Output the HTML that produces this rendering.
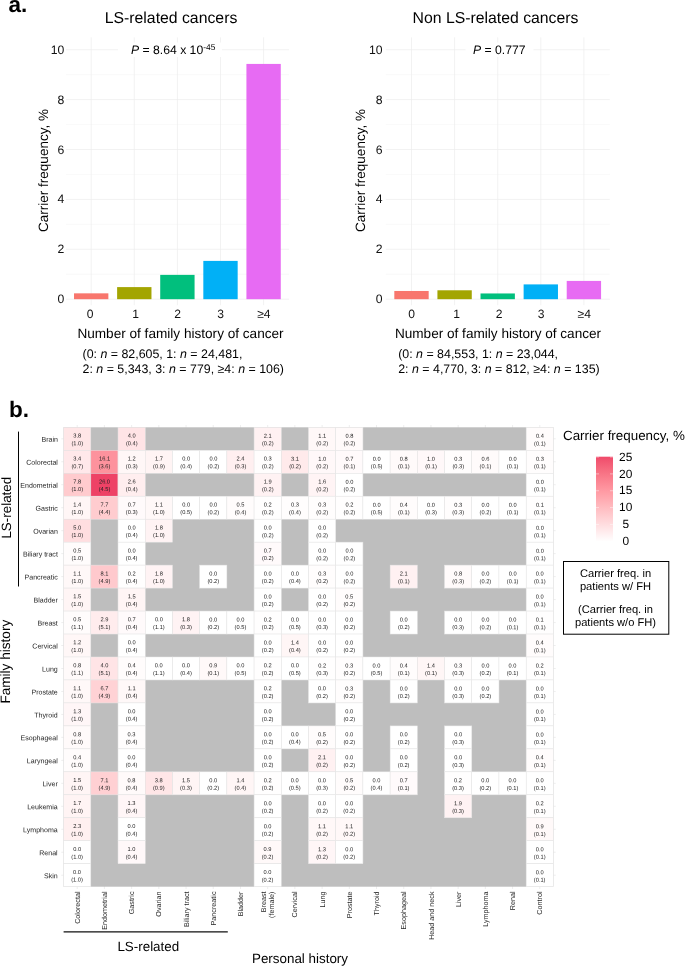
<!DOCTYPE html>
<html lang="en"><head><meta charset="utf-8"><title>Figure</title>
<style>html,body{margin:0;padding:0;background:#fff}svg{display:block;will-change:transform}text{font-family:'Liberation Sans', Arial, sans-serif;text-rendering:geometricPrecision}</style>
</head><body>
<svg width="685" height="966" viewBox="0 0 685 966">
<rect width="685" height="966" fill="#fff"/>
<g opacity="0.999">
<text x="8.40" y="11.60" font-size="22.5" font-weight="bold" fill="#000">a.</text>
<line x1="66.0" x2="289.0" y1="299.20" y2="299.20" stroke="#ededed" stroke-width="0.7"/>
<line x1="66.0" x2="289.0" y1="274.25" y2="274.25" stroke="#ededed" stroke-width="0.35"/>
<line x1="66.0" x2="289.0" y1="249.30" y2="249.30" stroke="#ededed" stroke-width="0.7"/>
<line x1="66.0" x2="289.0" y1="224.35" y2="224.35" stroke="#ededed" stroke-width="0.35"/>
<line x1="66.0" x2="289.0" y1="199.40" y2="199.40" stroke="#ededed" stroke-width="0.7"/>
<line x1="66.0" x2="289.0" y1="174.45" y2="174.45" stroke="#ededed" stroke-width="0.35"/>
<line x1="66.0" x2="289.0" y1="149.50" y2="149.50" stroke="#ededed" stroke-width="0.7"/>
<line x1="66.0" x2="289.0" y1="124.55" y2="124.55" stroke="#ededed" stroke-width="0.35"/>
<line x1="66.0" x2="289.0" y1="99.60" y2="99.60" stroke="#ededed" stroke-width="0.7"/>
<line x1="66.0" x2="289.0" y1="74.65" y2="74.65" stroke="#ededed" stroke-width="0.35"/>
<line x1="66.0" x2="289.0" y1="49.70" y2="49.70" stroke="#ededed" stroke-width="0.7"/>
<line x1="91.20" x2="91.20" y1="37.40" y2="305.20" stroke="#ededed" stroke-width="0.7"/>
<line x1="134.30" x2="134.30" y1="37.40" y2="305.20" stroke="#ededed" stroke-width="0.7"/>
<line x1="177.40" x2="177.40" y1="37.40" y2="305.20" stroke="#ededed" stroke-width="0.7"/>
<line x1="220.50" x2="220.50" y1="37.40" y2="305.20" stroke="#ededed" stroke-width="0.7"/>
<line x1="263.60" x2="263.60" y1="37.40" y2="305.20" stroke="#ededed" stroke-width="0.7"/>
<rect x="74.02" y="293.34" width="34.35" height="5.86" fill="#F8766D"/>
<rect x="117.12" y="287.10" width="34.35" height="12.10" fill="#A3A500"/>
<rect x="160.22" y="274.87" width="34.35" height="24.33" fill="#00BF7D"/>
<rect x="203.32" y="260.90" width="34.35" height="38.30" fill="#00B0F6"/>
<rect x="246.42" y="63.92" width="34.35" height="235.28" fill="#E76BF3"/>
<text x="64.20" y="303.20" font-size="12.2" text-anchor="end" fill="#111">0</text>
<text x="64.20" y="253.30" font-size="12.2" text-anchor="end" fill="#111">2</text>
<text x="64.20" y="203.40" font-size="12.2" text-anchor="end" fill="#111">4</text>
<text x="64.20" y="153.50" font-size="12.2" text-anchor="end" fill="#111">6</text>
<text x="64.20" y="103.60" font-size="12.2" text-anchor="end" fill="#111">8</text>
<text x="64.20" y="53.70" font-size="12.2" text-anchor="end" fill="#111">10</text>
<text x="90.10" y="317.80" font-size="12.1" text-anchor="middle" fill="#111">0</text>
<text x="135.50" y="317.80" font-size="12.1" text-anchor="middle" fill="#111">1</text>
<text x="177.60" y="317.80" font-size="12.1" text-anchor="middle" fill="#111">2</text>
<text x="220.50" y="317.80" font-size="12.1" text-anchor="middle" fill="#111">3</text>
<text x="263.90" y="317.80" font-size="12.1" text-anchor="middle" fill="#111">≥4</text>
<text x="171.00" y="23.40" font-size="15.8" text-anchor="middle" fill="#000">LS-related cancers</text>
<text x="47.60" y="170.50" font-size="13.5" text-anchor="middle" fill="#000" transform="rotate(-90 47.60 170.50)">Carrier frequency, %</text>
<text x="180.50" y="337.60" font-size="13.6" text-anchor="middle" fill="#000">Number of family history of cancer</text>
<rect x="118.0" y="42.5" width="104.0" height="14.5" fill="#fff"/>
<text x="131.00" y="53.60" font-size="12.2" fill="#000"><tspan font-style="italic">P</tspan> = 8.64 x 10<tspan font-size="8.4" dy="-3.4">-45</tspan></text>
<text x="82.50" y="357.90" font-size="12.4" fill="#000">(0: <tspan font-style="italic">n</tspan> = 82,605, 1: <tspan font-style="italic">n</tspan> = 24,481,</text>
<text x="82.50" y="373.40" font-size="12.4" fill="#000">2: <tspan font-style="italic">n</tspan> = 5,343, 3: <tspan font-style="italic">n</tspan> = 779, ≥4: <tspan font-style="italic">n</tspan> = 106)</text>
<line x1="385.8" x2="609.8" y1="299.20" y2="299.20" stroke="#ededed" stroke-width="0.7"/>
<line x1="385.8" x2="609.8" y1="274.25" y2="274.25" stroke="#ededed" stroke-width="0.35"/>
<line x1="385.8" x2="609.8" y1="249.30" y2="249.30" stroke="#ededed" stroke-width="0.7"/>
<line x1="385.8" x2="609.8" y1="224.35" y2="224.35" stroke="#ededed" stroke-width="0.35"/>
<line x1="385.8" x2="609.8" y1="199.40" y2="199.40" stroke="#ededed" stroke-width="0.7"/>
<line x1="385.8" x2="609.8" y1="174.45" y2="174.45" stroke="#ededed" stroke-width="0.35"/>
<line x1="385.8" x2="609.8" y1="149.50" y2="149.50" stroke="#ededed" stroke-width="0.7"/>
<line x1="385.8" x2="609.8" y1="124.55" y2="124.55" stroke="#ededed" stroke-width="0.35"/>
<line x1="385.8" x2="609.8" y1="99.60" y2="99.60" stroke="#ededed" stroke-width="0.7"/>
<line x1="385.8" x2="609.8" y1="74.65" y2="74.65" stroke="#ededed" stroke-width="0.35"/>
<line x1="385.8" x2="609.8" y1="49.70" y2="49.70" stroke="#ededed" stroke-width="0.7"/>
<line x1="411.50" x2="411.50" y1="37.40" y2="305.20" stroke="#ededed" stroke-width="0.7"/>
<line x1="454.60" x2="454.60" y1="37.40" y2="305.20" stroke="#ededed" stroke-width="0.7"/>
<line x1="497.70" x2="497.70" y1="37.40" y2="305.20" stroke="#ededed" stroke-width="0.7"/>
<line x1="540.80" x2="540.80" y1="37.40" y2="305.20" stroke="#ededed" stroke-width="0.7"/>
<line x1="583.90" x2="583.90" y1="37.40" y2="305.20" stroke="#ededed" stroke-width="0.7"/>
<rect x="394.32" y="290.97" width="34.35" height="8.23" fill="#F8766D"/>
<rect x="437.42" y="290.29" width="34.35" height="8.91" fill="#A3A500"/>
<rect x="480.52" y="293.46" width="34.35" height="5.74" fill="#00BF7D"/>
<rect x="523.62" y="284.40" width="34.35" height="14.80" fill="#00B0F6"/>
<rect x="566.72" y="280.91" width="34.35" height="18.29" fill="#E76BF3"/>
<text x="382.50" y="303.20" font-size="12.2" text-anchor="end" fill="#111">0</text>
<text x="382.50" y="253.30" font-size="12.2" text-anchor="end" fill="#111">2</text>
<text x="382.50" y="203.40" font-size="12.2" text-anchor="end" fill="#111">4</text>
<text x="382.50" y="153.50" font-size="12.2" text-anchor="end" fill="#111">6</text>
<text x="382.50" y="103.60" font-size="12.2" text-anchor="end" fill="#111">8</text>
<text x="382.50" y="53.70" font-size="12.2" text-anchor="end" fill="#111">10</text>
<text x="411.50" y="317.80" font-size="12.1" text-anchor="middle" fill="#111">0</text>
<text x="456.60" y="317.80" font-size="12.1" text-anchor="middle" fill="#111">1</text>
<text x="499.00" y="317.80" font-size="12.1" text-anchor="middle" fill="#111">2</text>
<text x="541.10" y="317.80" font-size="12.1" text-anchor="middle" fill="#111">3</text>
<text x="584.20" y="317.80" font-size="12.1" text-anchor="middle" fill="#111">≥4</text>
<text x="495.50" y="23.40" font-size="15.8" text-anchor="middle" fill="#000">Non LS-related cancers</text>
<text x="365.40" y="170.50" font-size="13.5" text-anchor="middle" fill="#000" transform="rotate(-90 365.40 170.50)">Carrier frequency, %</text>
<text x="498.00" y="337.60" font-size="13.6" text-anchor="middle" fill="#000">Number of family history of cancer</text>
<rect x="465.5" y="42.5" width="68.0" height="14.5" fill="#fff"/>
<text x="473.00" y="53.60" font-size="12.2" fill="#000"><tspan font-style="italic">P</tspan> = 0.777</text>
<text x="398.20" y="357.90" font-size="12.4" fill="#000">(0: <tspan font-style="italic">n</tspan> = 84,553, 1: <tspan font-style="italic">n</tspan> = 23,044,</text>
<text x="398.20" y="373.40" font-size="12.4" fill="#000">2: <tspan font-style="italic">n</tspan> = 4,770, 3: <tspan font-style="italic">n</tspan> = 812, ≥4: <tspan font-style="italic">n</tspan> = 135)</text>
<text x="9.00" y="417.30" font-size="22.5" font-weight="bold" fill="#000">b.</text>
<line x1="61.30" x2="555.70" y1="438.79" y2="438.79" stroke="#e2e2e2" stroke-width="0.6"/>
<line x1="61.30" x2="555.70" y1="461.75" y2="461.75" stroke="#e2e2e2" stroke-width="0.6"/>
<line x1="61.30" x2="555.70" y1="484.73" y2="484.73" stroke="#e2e2e2" stroke-width="0.6"/>
<line x1="61.30" x2="555.70" y1="507.70" y2="507.70" stroke="#e2e2e2" stroke-width="0.6"/>
<line x1="61.30" x2="555.70" y1="530.66" y2="530.66" stroke="#e2e2e2" stroke-width="0.6"/>
<line x1="61.30" x2="555.70" y1="553.63" y2="553.63" stroke="#e2e2e2" stroke-width="0.6"/>
<line x1="61.30" x2="555.70" y1="576.61" y2="576.61" stroke="#e2e2e2" stroke-width="0.6"/>
<line x1="61.30" x2="555.70" y1="599.58" y2="599.58" stroke="#e2e2e2" stroke-width="0.6"/>
<line x1="61.30" x2="555.70" y1="622.55" y2="622.55" stroke="#e2e2e2" stroke-width="0.6"/>
<line x1="61.30" x2="555.70" y1="645.52" y2="645.52" stroke="#e2e2e2" stroke-width="0.6"/>
<line x1="61.30" x2="555.70" y1="668.49" y2="668.49" stroke="#e2e2e2" stroke-width="0.6"/>
<line x1="61.30" x2="555.70" y1="691.46" y2="691.46" stroke="#e2e2e2" stroke-width="0.6"/>
<line x1="61.30" x2="555.70" y1="714.43" y2="714.43" stroke="#e2e2e2" stroke-width="0.6"/>
<line x1="61.30" x2="555.70" y1="737.39" y2="737.39" stroke="#e2e2e2" stroke-width="0.6"/>
<line x1="61.30" x2="555.70" y1="760.37" y2="760.37" stroke="#e2e2e2" stroke-width="0.6"/>
<line x1="61.30" x2="555.70" y1="783.34" y2="783.34" stroke="#e2e2e2" stroke-width="0.6"/>
<line x1="61.30" x2="555.70" y1="806.31" y2="806.31" stroke="#e2e2e2" stroke-width="0.6"/>
<line x1="61.30" x2="555.70" y1="829.28" y2="829.28" stroke="#e2e2e2" stroke-width="0.6"/>
<line x1="61.30" x2="555.70" y1="852.25" y2="852.25" stroke="#e2e2e2" stroke-width="0.6"/>
<line x1="61.30" x2="555.70" y1="875.22" y2="875.22" stroke="#e2e2e2" stroke-width="0.6"/>
<line x1="77.21" x2="77.21" y1="425.00" y2="889.00" stroke="#e2e2e2" stroke-width="0.6"/>
<line x1="104.42" x2="104.42" y1="425.00" y2="889.00" stroke="#e2e2e2" stroke-width="0.6"/>
<line x1="131.63" x2="131.63" y1="425.00" y2="889.00" stroke="#e2e2e2" stroke-width="0.6"/>
<line x1="158.84" x2="158.84" y1="425.00" y2="889.00" stroke="#e2e2e2" stroke-width="0.6"/>
<line x1="186.05" x2="186.05" y1="425.00" y2="889.00" stroke="#e2e2e2" stroke-width="0.6"/>
<line x1="213.26" x2="213.26" y1="425.00" y2="889.00" stroke="#e2e2e2" stroke-width="0.6"/>
<line x1="240.47" x2="240.47" y1="425.00" y2="889.00" stroke="#e2e2e2" stroke-width="0.6"/>
<line x1="267.68" x2="267.68" y1="425.00" y2="889.00" stroke="#e2e2e2" stroke-width="0.6"/>
<line x1="294.89" x2="294.89" y1="425.00" y2="889.00" stroke="#e2e2e2" stroke-width="0.6"/>
<line x1="322.11" x2="322.11" y1="425.00" y2="889.00" stroke="#e2e2e2" stroke-width="0.6"/>
<line x1="349.32" x2="349.32" y1="425.00" y2="889.00" stroke="#e2e2e2" stroke-width="0.6"/>
<line x1="376.53" x2="376.53" y1="425.00" y2="889.00" stroke="#e2e2e2" stroke-width="0.6"/>
<line x1="403.74" x2="403.74" y1="425.00" y2="889.00" stroke="#e2e2e2" stroke-width="0.6"/>
<line x1="430.95" x2="430.95" y1="425.00" y2="889.00" stroke="#e2e2e2" stroke-width="0.6"/>
<line x1="458.16" x2="458.16" y1="425.00" y2="889.00" stroke="#e2e2e2" stroke-width="0.6"/>
<line x1="485.37" x2="485.37" y1="425.00" y2="889.00" stroke="#e2e2e2" stroke-width="0.6"/>
<line x1="512.58" x2="512.58" y1="425.00" y2="889.00" stroke="#e2e2e2" stroke-width="0.6"/>
<line x1="539.79" x2="539.79" y1="425.00" y2="889.00" stroke="#e2e2e2" stroke-width="0.6"/>
<rect x="63.6" y="427.3" width="489.80" height="459.40" fill="#bebebe"/>
<rect x="63.60" y="427.30" width="27.21" height="22.97" fill="#ffe6e7" stroke="#e6e6e6" stroke-width="0.5"/>
<rect x="118.02" y="427.30" width="27.21" height="22.97" fill="#ffe4e6" stroke="#e6e6e6" stroke-width="0.5"/>
<rect x="254.08" y="427.30" width="27.21" height="22.97" fill="#fff1f2" stroke="#e6e6e6" stroke-width="0.5"/>
<rect x="308.50" y="427.30" width="27.21" height="22.97" fill="#fff8f8" stroke="#e6e6e6" stroke-width="0.5"/>
<rect x="335.71" y="427.30" width="27.21" height="22.97" fill="#fffafa" stroke="#e6e6e6" stroke-width="0.5"/>
<rect x="526.19" y="427.30" width="27.21" height="22.97" fill="#fffcfc" stroke="#e6e6e6" stroke-width="0.5"/>
<rect x="63.60" y="450.27" width="27.21" height="22.97" fill="#ffe8ea" stroke="#e6e6e6" stroke-width="0.5"/>
<rect x="90.81" y="450.27" width="27.21" height="22.97" fill="#fd929d" stroke="#e6e6e6" stroke-width="0.5"/>
<rect x="118.02" y="450.27" width="27.21" height="22.97" fill="#fff7f7" stroke="#e6e6e6" stroke-width="0.5"/>
<rect x="145.23" y="450.27" width="27.21" height="22.97" fill="#fff4f4" stroke="#e6e6e6" stroke-width="0.5"/>
<rect x="172.44" y="450.27" width="27.21" height="22.97" fill="#ffffff" stroke="#e6e6e6" stroke-width="0.5"/>
<rect x="199.66" y="450.27" width="27.21" height="22.97" fill="#ffffff" stroke="#e6e6e6" stroke-width="0.5"/>
<rect x="226.87" y="450.27" width="27.21" height="22.97" fill="#ffeff0" stroke="#e6e6e6" stroke-width="0.5"/>
<rect x="254.08" y="450.27" width="27.21" height="22.97" fill="#fffdfd" stroke="#e6e6e6" stroke-width="0.5"/>
<rect x="281.29" y="450.27" width="27.21" height="22.97" fill="#ffeaeb" stroke="#e6e6e6" stroke-width="0.5"/>
<rect x="308.50" y="450.27" width="27.21" height="22.97" fill="#fff8f9" stroke="#e6e6e6" stroke-width="0.5"/>
<rect x="335.71" y="450.27" width="27.21" height="22.97" fill="#fffafb" stroke="#e6e6e6" stroke-width="0.5"/>
<rect x="362.92" y="450.27" width="27.21" height="22.97" fill="#ffffff" stroke="#e6e6e6" stroke-width="0.5"/>
<rect x="390.13" y="450.27" width="27.21" height="22.97" fill="#fffafa" stroke="#e6e6e6" stroke-width="0.5"/>
<rect x="417.34" y="450.27" width="27.21" height="22.97" fill="#fff8f9" stroke="#e6e6e6" stroke-width="0.5"/>
<rect x="444.56" y="450.27" width="27.21" height="22.97" fill="#fffdfd" stroke="#e6e6e6" stroke-width="0.5"/>
<rect x="471.77" y="450.27" width="27.21" height="22.97" fill="#fffbfb" stroke="#e6e6e6" stroke-width="0.5"/>
<rect x="498.98" y="450.27" width="27.21" height="22.97" fill="#ffffff" stroke="#e6e6e6" stroke-width="0.5"/>
<rect x="526.19" y="450.27" width="27.21" height="22.97" fill="#fffdfd" stroke="#e6e6e6" stroke-width="0.5"/>
<rect x="63.60" y="473.24" width="27.21" height="22.97" fill="#ffcbce" stroke="#e6e6e6" stroke-width="0.5"/>
<rect x="90.81" y="473.24" width="27.21" height="22.97" fill="#ee4266" stroke="#e6e6e6" stroke-width="0.5"/>
<rect x="118.02" y="473.24" width="27.21" height="22.97" fill="#ffeeef" stroke="#e6e6e6" stroke-width="0.5"/>
<rect x="254.08" y="473.24" width="27.21" height="22.97" fill="#fff2f3" stroke="#e6e6e6" stroke-width="0.5"/>
<rect x="308.50" y="473.24" width="27.21" height="22.97" fill="#fff4f5" stroke="#e6e6e6" stroke-width="0.5"/>
<rect x="335.71" y="473.24" width="27.21" height="22.97" fill="#ffffff" stroke="#e6e6e6" stroke-width="0.5"/>
<rect x="526.19" y="473.24" width="27.21" height="22.97" fill="#ffffff" stroke="#e6e6e6" stroke-width="0.5"/>
<rect x="63.60" y="496.21" width="27.21" height="22.97" fill="#fff6f6" stroke="#e6e6e6" stroke-width="0.5"/>
<rect x="90.81" y="496.21" width="27.21" height="22.97" fill="#ffcccf" stroke="#e6e6e6" stroke-width="0.5"/>
<rect x="118.02" y="496.21" width="27.21" height="22.97" fill="#fffafb" stroke="#e6e6e6" stroke-width="0.5"/>
<rect x="145.23" y="496.21" width="27.21" height="22.97" fill="#fff8f8" stroke="#e6e6e6" stroke-width="0.5"/>
<rect x="172.44" y="496.21" width="27.21" height="22.97" fill="#ffffff" stroke="#e6e6e6" stroke-width="0.5"/>
<rect x="199.66" y="496.21" width="27.21" height="22.97" fill="#ffffff" stroke="#e6e6e6" stroke-width="0.5"/>
<rect x="226.87" y="496.21" width="27.21" height="22.97" fill="#fffcfc" stroke="#e6e6e6" stroke-width="0.5"/>
<rect x="254.08" y="496.21" width="27.21" height="22.97" fill="#fffefe" stroke="#e6e6e6" stroke-width="0.5"/>
<rect x="281.29" y="496.21" width="27.21" height="22.97" fill="#fffdfd" stroke="#e6e6e6" stroke-width="0.5"/>
<rect x="308.50" y="496.21" width="27.21" height="22.97" fill="#fffdfd" stroke="#e6e6e6" stroke-width="0.5"/>
<rect x="335.71" y="496.21" width="27.21" height="22.97" fill="#fffefe" stroke="#e6e6e6" stroke-width="0.5"/>
<rect x="362.92" y="496.21" width="27.21" height="22.97" fill="#ffffff" stroke="#e6e6e6" stroke-width="0.5"/>
<rect x="390.13" y="496.21" width="27.21" height="22.97" fill="#fffcfc" stroke="#e6e6e6" stroke-width="0.5"/>
<rect x="417.34" y="496.21" width="27.21" height="22.97" fill="#ffffff" stroke="#e6e6e6" stroke-width="0.5"/>
<rect x="444.56" y="496.21" width="27.21" height="22.97" fill="#fffdfd" stroke="#e6e6e6" stroke-width="0.5"/>
<rect x="471.77" y="496.21" width="27.21" height="22.97" fill="#ffffff" stroke="#e6e6e6" stroke-width="0.5"/>
<rect x="498.98" y="496.21" width="27.21" height="22.97" fill="#ffffff" stroke="#e6e6e6" stroke-width="0.5"/>
<rect x="526.19" y="496.21" width="27.21" height="22.97" fill="#fffefe" stroke="#e6e6e6" stroke-width="0.5"/>
<rect x="63.60" y="519.18" width="27.21" height="22.97" fill="#ffdee0" stroke="#e6e6e6" stroke-width="0.5"/>
<rect x="118.02" y="519.18" width="27.21" height="22.97" fill="#ffffff" stroke="#e6e6e6" stroke-width="0.5"/>
<rect x="145.23" y="519.18" width="27.21" height="22.97" fill="#fff3f4" stroke="#e6e6e6" stroke-width="0.5"/>
<rect x="254.08" y="519.18" width="27.21" height="22.97" fill="#ffffff" stroke="#e6e6e6" stroke-width="0.5"/>
<rect x="308.50" y="519.18" width="27.21" height="22.97" fill="#ffffff" stroke="#e6e6e6" stroke-width="0.5"/>
<rect x="526.19" y="519.18" width="27.21" height="22.97" fill="#ffffff" stroke="#e6e6e6" stroke-width="0.5"/>
<rect x="63.60" y="542.15" width="27.21" height="22.97" fill="#fffcfc" stroke="#e6e6e6" stroke-width="0.5"/>
<rect x="118.02" y="542.15" width="27.21" height="22.97" fill="#ffffff" stroke="#e6e6e6" stroke-width="0.5"/>
<rect x="254.08" y="542.15" width="27.21" height="22.97" fill="#fffafb" stroke="#e6e6e6" stroke-width="0.5"/>
<rect x="308.50" y="542.15" width="27.21" height="22.97" fill="#ffffff" stroke="#e6e6e6" stroke-width="0.5"/>
<rect x="335.71" y="542.15" width="27.21" height="22.97" fill="#ffffff" stroke="#e6e6e6" stroke-width="0.5"/>
<rect x="526.19" y="542.15" width="27.21" height="22.97" fill="#ffffff" stroke="#e6e6e6" stroke-width="0.5"/>
<rect x="63.60" y="565.12" width="27.21" height="22.97" fill="#fff8f8" stroke="#e6e6e6" stroke-width="0.5"/>
<rect x="90.81" y="565.12" width="27.21" height="22.97" fill="#ffc9cd" stroke="#e6e6e6" stroke-width="0.5"/>
<rect x="118.02" y="565.12" width="27.21" height="22.97" fill="#fffefe" stroke="#e6e6e6" stroke-width="0.5"/>
<rect x="145.23" y="565.12" width="27.21" height="22.97" fill="#fff3f4" stroke="#e6e6e6" stroke-width="0.5"/>
<rect x="199.66" y="565.12" width="27.21" height="22.97" fill="#ffffff" stroke="#e6e6e6" stroke-width="0.5"/>
<rect x="254.08" y="565.12" width="27.21" height="22.97" fill="#ffffff" stroke="#e6e6e6" stroke-width="0.5"/>
<rect x="281.29" y="565.12" width="27.21" height="22.97" fill="#ffffff" stroke="#e6e6e6" stroke-width="0.5"/>
<rect x="308.50" y="565.12" width="27.21" height="22.97" fill="#fffdfd" stroke="#e6e6e6" stroke-width="0.5"/>
<rect x="335.71" y="565.12" width="27.21" height="22.97" fill="#ffffff" stroke="#e6e6e6" stroke-width="0.5"/>
<rect x="390.13" y="565.12" width="27.21" height="22.97" fill="#fff1f2" stroke="#e6e6e6" stroke-width="0.5"/>
<rect x="444.56" y="565.12" width="27.21" height="22.97" fill="#fffafa" stroke="#e6e6e6" stroke-width="0.5"/>
<rect x="471.77" y="565.12" width="27.21" height="22.97" fill="#ffffff" stroke="#e6e6e6" stroke-width="0.5"/>
<rect x="498.98" y="565.12" width="27.21" height="22.97" fill="#ffffff" stroke="#e6e6e6" stroke-width="0.5"/>
<rect x="526.19" y="565.12" width="27.21" height="22.97" fill="#ffffff" stroke="#e6e6e6" stroke-width="0.5"/>
<rect x="63.60" y="588.09" width="27.21" height="22.97" fill="#fff5f5" stroke="#e6e6e6" stroke-width="0.5"/>
<rect x="118.02" y="588.09" width="27.21" height="22.97" fill="#fff5f5" stroke="#e6e6e6" stroke-width="0.5"/>
<rect x="254.08" y="588.09" width="27.21" height="22.97" fill="#ffffff" stroke="#e6e6e6" stroke-width="0.5"/>
<rect x="308.50" y="588.09" width="27.21" height="22.97" fill="#ffffff" stroke="#e6e6e6" stroke-width="0.5"/>
<rect x="335.71" y="588.09" width="27.21" height="22.97" fill="#fffcfc" stroke="#e6e6e6" stroke-width="0.5"/>
<rect x="526.19" y="588.09" width="27.21" height="22.97" fill="#ffffff" stroke="#e6e6e6" stroke-width="0.5"/>
<rect x="63.60" y="611.06" width="27.21" height="22.97" fill="#fffcfc" stroke="#e6e6e6" stroke-width="0.5"/>
<rect x="90.81" y="611.06" width="27.21" height="22.97" fill="#ffeced" stroke="#e6e6e6" stroke-width="0.5"/>
<rect x="118.02" y="611.06" width="27.21" height="22.97" fill="#fffafb" stroke="#e6e6e6" stroke-width="0.5"/>
<rect x="145.23" y="611.06" width="27.21" height="22.97" fill="#ffffff" stroke="#e6e6e6" stroke-width="0.5"/>
<rect x="172.44" y="611.06" width="27.21" height="22.97" fill="#fff3f4" stroke="#e6e6e6" stroke-width="0.5"/>
<rect x="199.66" y="611.06" width="27.21" height="22.97" fill="#ffffff" stroke="#e6e6e6" stroke-width="0.5"/>
<rect x="226.87" y="611.06" width="27.21" height="22.97" fill="#ffffff" stroke="#e6e6e6" stroke-width="0.5"/>
<rect x="254.08" y="611.06" width="27.21" height="22.97" fill="#fffefe" stroke="#e6e6e6" stroke-width="0.5"/>
<rect x="281.29" y="611.06" width="27.21" height="22.97" fill="#ffffff" stroke="#e6e6e6" stroke-width="0.5"/>
<rect x="308.50" y="611.06" width="27.21" height="22.97" fill="#ffffff" stroke="#e6e6e6" stroke-width="0.5"/>
<rect x="335.71" y="611.06" width="27.21" height="22.97" fill="#ffffff" stroke="#e6e6e6" stroke-width="0.5"/>
<rect x="390.13" y="611.06" width="27.21" height="22.97" fill="#ffffff" stroke="#e6e6e6" stroke-width="0.5"/>
<rect x="444.56" y="611.06" width="27.21" height="22.97" fill="#ffffff" stroke="#e6e6e6" stroke-width="0.5"/>
<rect x="471.77" y="611.06" width="27.21" height="22.97" fill="#ffffff" stroke="#e6e6e6" stroke-width="0.5"/>
<rect x="498.98" y="611.06" width="27.21" height="22.97" fill="#ffffff" stroke="#e6e6e6" stroke-width="0.5"/>
<rect x="526.19" y="611.06" width="27.21" height="22.97" fill="#fffefe" stroke="#e6e6e6" stroke-width="0.5"/>
<rect x="63.60" y="634.03" width="27.21" height="22.97" fill="#fff7f7" stroke="#e6e6e6" stroke-width="0.5"/>
<rect x="118.02" y="634.03" width="27.21" height="22.97" fill="#ffffff" stroke="#e6e6e6" stroke-width="0.5"/>
<rect x="254.08" y="634.03" width="27.21" height="22.97" fill="#ffffff" stroke="#e6e6e6" stroke-width="0.5"/>
<rect x="281.29" y="634.03" width="27.21" height="22.97" fill="#fff6f6" stroke="#e6e6e6" stroke-width="0.5"/>
<rect x="308.50" y="634.03" width="27.21" height="22.97" fill="#ffffff" stroke="#e6e6e6" stroke-width="0.5"/>
<rect x="335.71" y="634.03" width="27.21" height="22.97" fill="#ffffff" stroke="#e6e6e6" stroke-width="0.5"/>
<rect x="526.19" y="634.03" width="27.21" height="22.97" fill="#fffcfc" stroke="#e6e6e6" stroke-width="0.5"/>
<rect x="63.60" y="657.00" width="27.21" height="22.97" fill="#fffafa" stroke="#e6e6e6" stroke-width="0.5"/>
<rect x="90.81" y="657.00" width="27.21" height="22.97" fill="#ffe4e6" stroke="#e6e6e6" stroke-width="0.5"/>
<rect x="118.02" y="657.00" width="27.21" height="22.97" fill="#fffcfc" stroke="#e6e6e6" stroke-width="0.5"/>
<rect x="145.23" y="657.00" width="27.21" height="22.97" fill="#ffffff" stroke="#e6e6e6" stroke-width="0.5"/>
<rect x="172.44" y="657.00" width="27.21" height="22.97" fill="#ffffff" stroke="#e6e6e6" stroke-width="0.5"/>
<rect x="199.66" y="657.00" width="27.21" height="22.97" fill="#fff9f9" stroke="#e6e6e6" stroke-width="0.5"/>
<rect x="226.87" y="657.00" width="27.21" height="22.97" fill="#ffffff" stroke="#e6e6e6" stroke-width="0.5"/>
<rect x="254.08" y="657.00" width="27.21" height="22.97" fill="#fffefe" stroke="#e6e6e6" stroke-width="0.5"/>
<rect x="281.29" y="657.00" width="27.21" height="22.97" fill="#ffffff" stroke="#e6e6e6" stroke-width="0.5"/>
<rect x="308.50" y="657.00" width="27.21" height="22.97" fill="#fffefe" stroke="#e6e6e6" stroke-width="0.5"/>
<rect x="335.71" y="657.00" width="27.21" height="22.97" fill="#fffdfd" stroke="#e6e6e6" stroke-width="0.5"/>
<rect x="362.92" y="657.00" width="27.21" height="22.97" fill="#ffffff" stroke="#e6e6e6" stroke-width="0.5"/>
<rect x="390.13" y="657.00" width="27.21" height="22.97" fill="#fffcfc" stroke="#e6e6e6" stroke-width="0.5"/>
<rect x="417.34" y="657.00" width="27.21" height="22.97" fill="#fff6f6" stroke="#e6e6e6" stroke-width="0.5"/>
<rect x="444.56" y="657.00" width="27.21" height="22.97" fill="#fffdfd" stroke="#e6e6e6" stroke-width="0.5"/>
<rect x="471.77" y="657.00" width="27.21" height="22.97" fill="#ffffff" stroke="#e6e6e6" stroke-width="0.5"/>
<rect x="498.98" y="657.00" width="27.21" height="22.97" fill="#ffffff" stroke="#e6e6e6" stroke-width="0.5"/>
<rect x="526.19" y="657.00" width="27.21" height="22.97" fill="#fffefe" stroke="#e6e6e6" stroke-width="0.5"/>
<rect x="63.60" y="679.97" width="27.21" height="22.97" fill="#fff8f8" stroke="#e6e6e6" stroke-width="0.5"/>
<rect x="90.81" y="679.97" width="27.21" height="22.97" fill="#ffd2d5" stroke="#e6e6e6" stroke-width="0.5"/>
<rect x="118.02" y="679.97" width="27.21" height="22.97" fill="#fff8f8" stroke="#e6e6e6" stroke-width="0.5"/>
<rect x="254.08" y="679.97" width="27.21" height="22.97" fill="#fffefe" stroke="#e6e6e6" stroke-width="0.5"/>
<rect x="308.50" y="679.97" width="27.21" height="22.97" fill="#ffffff" stroke="#e6e6e6" stroke-width="0.5"/>
<rect x="335.71" y="679.97" width="27.21" height="22.97" fill="#fffdfd" stroke="#e6e6e6" stroke-width="0.5"/>
<rect x="390.13" y="679.97" width="27.21" height="22.97" fill="#ffffff" stroke="#e6e6e6" stroke-width="0.5"/>
<rect x="444.56" y="679.97" width="27.21" height="22.97" fill="#ffffff" stroke="#e6e6e6" stroke-width="0.5"/>
<rect x="471.77" y="679.97" width="27.21" height="22.97" fill="#ffffff" stroke="#e6e6e6" stroke-width="0.5"/>
<rect x="526.19" y="679.97" width="27.21" height="22.97" fill="#ffffff" stroke="#e6e6e6" stroke-width="0.5"/>
<rect x="63.60" y="702.94" width="27.21" height="22.97" fill="#fff6f7" stroke="#e6e6e6" stroke-width="0.5"/>
<rect x="118.02" y="702.94" width="27.21" height="22.97" fill="#ffffff" stroke="#e6e6e6" stroke-width="0.5"/>
<rect x="254.08" y="702.94" width="27.21" height="22.97" fill="#ffffff" stroke="#e6e6e6" stroke-width="0.5"/>
<rect x="335.71" y="702.94" width="27.21" height="22.97" fill="#ffffff" stroke="#e6e6e6" stroke-width="0.5"/>
<rect x="526.19" y="702.94" width="27.21" height="22.97" fill="#ffffff" stroke="#e6e6e6" stroke-width="0.5"/>
<rect x="63.60" y="725.91" width="27.21" height="22.97" fill="#fffafa" stroke="#e6e6e6" stroke-width="0.5"/>
<rect x="118.02" y="725.91" width="27.21" height="22.97" fill="#fffdfd" stroke="#e6e6e6" stroke-width="0.5"/>
<rect x="254.08" y="725.91" width="27.21" height="22.97" fill="#ffffff" stroke="#e6e6e6" stroke-width="0.5"/>
<rect x="281.29" y="725.91" width="27.21" height="22.97" fill="#ffffff" stroke="#e6e6e6" stroke-width="0.5"/>
<rect x="308.50" y="725.91" width="27.21" height="22.97" fill="#fffcfc" stroke="#e6e6e6" stroke-width="0.5"/>
<rect x="335.71" y="725.91" width="27.21" height="22.97" fill="#ffffff" stroke="#e6e6e6" stroke-width="0.5"/>
<rect x="390.13" y="725.91" width="27.21" height="22.97" fill="#ffffff" stroke="#e6e6e6" stroke-width="0.5"/>
<rect x="444.56" y="725.91" width="27.21" height="22.97" fill="#ffffff" stroke="#e6e6e6" stroke-width="0.5"/>
<rect x="526.19" y="725.91" width="27.21" height="22.97" fill="#ffffff" stroke="#e6e6e6" stroke-width="0.5"/>
<rect x="63.60" y="748.88" width="27.21" height="22.97" fill="#fffcfc" stroke="#e6e6e6" stroke-width="0.5"/>
<rect x="118.02" y="748.88" width="27.21" height="22.97" fill="#ffffff" stroke="#e6e6e6" stroke-width="0.5"/>
<rect x="254.08" y="748.88" width="27.21" height="22.97" fill="#ffffff" stroke="#e6e6e6" stroke-width="0.5"/>
<rect x="308.50" y="748.88" width="27.21" height="22.97" fill="#fff1f2" stroke="#e6e6e6" stroke-width="0.5"/>
<rect x="335.71" y="748.88" width="27.21" height="22.97" fill="#ffffff" stroke="#e6e6e6" stroke-width="0.5"/>
<rect x="390.13" y="748.88" width="27.21" height="22.97" fill="#ffffff" stroke="#e6e6e6" stroke-width="0.5"/>
<rect x="444.56" y="748.88" width="27.21" height="22.97" fill="#ffffff" stroke="#e6e6e6" stroke-width="0.5"/>
<rect x="526.19" y="748.88" width="27.21" height="22.97" fill="#fffcfc" stroke="#e6e6e6" stroke-width="0.5"/>
<rect x="63.60" y="771.85" width="27.21" height="22.97" fill="#fff5f5" stroke="#e6e6e6" stroke-width="0.5"/>
<rect x="90.81" y="771.85" width="27.21" height="22.97" fill="#ffd0d3" stroke="#e6e6e6" stroke-width="0.5"/>
<rect x="118.02" y="771.85" width="27.21" height="22.97" fill="#fffafa" stroke="#e6e6e6" stroke-width="0.5"/>
<rect x="145.23" y="771.85" width="27.21" height="22.97" fill="#ffe6e7" stroke="#e6e6e6" stroke-width="0.5"/>
<rect x="172.44" y="771.85" width="27.21" height="22.97" fill="#fff5f5" stroke="#e6e6e6" stroke-width="0.5"/>
<rect x="199.66" y="771.85" width="27.21" height="22.97" fill="#ffffff" stroke="#e6e6e6" stroke-width="0.5"/>
<rect x="226.87" y="771.85" width="27.21" height="22.97" fill="#fff6f6" stroke="#e6e6e6" stroke-width="0.5"/>
<rect x="254.08" y="771.85" width="27.21" height="22.97" fill="#fffefe" stroke="#e6e6e6" stroke-width="0.5"/>
<rect x="281.29" y="771.85" width="27.21" height="22.97" fill="#ffffff" stroke="#e6e6e6" stroke-width="0.5"/>
<rect x="308.50" y="771.85" width="27.21" height="22.97" fill="#ffffff" stroke="#e6e6e6" stroke-width="0.5"/>
<rect x="335.71" y="771.85" width="27.21" height="22.97" fill="#fffcfc" stroke="#e6e6e6" stroke-width="0.5"/>
<rect x="362.92" y="771.85" width="27.21" height="22.97" fill="#ffffff" stroke="#e6e6e6" stroke-width="0.5"/>
<rect x="390.13" y="771.85" width="27.21" height="22.97" fill="#fffafb" stroke="#e6e6e6" stroke-width="0.5"/>
<rect x="444.56" y="771.85" width="27.21" height="22.97" fill="#fffefe" stroke="#e6e6e6" stroke-width="0.5"/>
<rect x="471.77" y="771.85" width="27.21" height="22.97" fill="#ffffff" stroke="#e6e6e6" stroke-width="0.5"/>
<rect x="498.98" y="771.85" width="27.21" height="22.97" fill="#ffffff" stroke="#e6e6e6" stroke-width="0.5"/>
<rect x="526.19" y="771.85" width="27.21" height="22.97" fill="#ffffff" stroke="#e6e6e6" stroke-width="0.5"/>
<rect x="63.60" y="794.82" width="27.21" height="22.97" fill="#fff4f4" stroke="#e6e6e6" stroke-width="0.5"/>
<rect x="118.02" y="794.82" width="27.21" height="22.97" fill="#fff6f7" stroke="#e6e6e6" stroke-width="0.5"/>
<rect x="254.08" y="794.82" width="27.21" height="22.97" fill="#ffffff" stroke="#e6e6e6" stroke-width="0.5"/>
<rect x="308.50" y="794.82" width="27.21" height="22.97" fill="#ffffff" stroke="#e6e6e6" stroke-width="0.5"/>
<rect x="335.71" y="794.82" width="27.21" height="22.97" fill="#ffffff" stroke="#e6e6e6" stroke-width="0.5"/>
<rect x="444.56" y="794.82" width="27.21" height="22.97" fill="#fff2f3" stroke="#e6e6e6" stroke-width="0.5"/>
<rect x="526.19" y="794.82" width="27.21" height="22.97" fill="#fffefe" stroke="#e6e6e6" stroke-width="0.5"/>
<rect x="63.60" y="817.79" width="27.21" height="22.97" fill="#fff0f0" stroke="#e6e6e6" stroke-width="0.5"/>
<rect x="118.02" y="817.79" width="27.21" height="22.97" fill="#ffffff" stroke="#e6e6e6" stroke-width="0.5"/>
<rect x="254.08" y="817.79" width="27.21" height="22.97" fill="#ffffff" stroke="#e6e6e6" stroke-width="0.5"/>
<rect x="308.50" y="817.79" width="27.21" height="22.97" fill="#fff8f8" stroke="#e6e6e6" stroke-width="0.5"/>
<rect x="335.71" y="817.79" width="27.21" height="22.97" fill="#fff8f8" stroke="#e6e6e6" stroke-width="0.5"/>
<rect x="526.19" y="817.79" width="27.21" height="22.97" fill="#fff9f9" stroke="#e6e6e6" stroke-width="0.5"/>
<rect x="63.60" y="840.76" width="27.21" height="22.97" fill="#ffffff" stroke="#e6e6e6" stroke-width="0.5"/>
<rect x="118.02" y="840.76" width="27.21" height="22.97" fill="#fff8f9" stroke="#e6e6e6" stroke-width="0.5"/>
<rect x="254.08" y="840.76" width="27.21" height="22.97" fill="#fff9f9" stroke="#e6e6e6" stroke-width="0.5"/>
<rect x="308.50" y="840.76" width="27.21" height="22.97" fill="#fff6f7" stroke="#e6e6e6" stroke-width="0.5"/>
<rect x="335.71" y="840.76" width="27.21" height="22.97" fill="#ffffff" stroke="#e6e6e6" stroke-width="0.5"/>
<rect x="526.19" y="840.76" width="27.21" height="22.97" fill="#ffffff" stroke="#e6e6e6" stroke-width="0.5"/>
<rect x="63.60" y="863.73" width="27.21" height="22.97" fill="#ffffff" stroke="#e6e6e6" stroke-width="0.5"/>
<rect x="254.08" y="863.73" width="27.21" height="22.97" fill="#ffffff" stroke="#e6e6e6" stroke-width="0.5"/>
<rect x="526.19" y="863.73" width="27.21" height="22.97" fill="#ffffff" stroke="#e6e6e6" stroke-width="0.5"/>
<g font-size="5.7" text-anchor="middle" fill="#222" transform="rotate(0.03 308 657)">
<text x="77.21" y="437.69">3.8</text><text x="77.21" y="445.29">(1.0)</text>
<text x="131.63" y="437.69">4.0</text><text x="131.63" y="445.29">(0.4)</text>
<text x="267.68" y="437.69">2.1</text><text x="267.68" y="445.29">(0.2)</text>
<text x="322.11" y="437.69">1.1</text><text x="322.11" y="445.29">(0.2)</text>
<text x="349.32" y="437.69">0.8</text><text x="349.32" y="445.29">(0.2)</text>
<text x="539.79" y="437.69">0.4</text><text x="539.79" y="445.29">(0.1)</text>
<text x="77.21" y="460.65">3.4</text><text x="77.21" y="468.25">(0.7)</text>
<text x="104.42" y="460.65">16.1</text><text x="104.42" y="468.25">(3.6)</text>
<text x="131.63" y="460.65">1.2</text><text x="131.63" y="468.25">(0.3)</text>
<text x="158.84" y="460.65">1.7</text><text x="158.84" y="468.25">(0.9)</text>
<text x="186.05" y="460.65">0.0</text><text x="186.05" y="468.25">(0.4)</text>
<text x="213.26" y="460.65">0.0</text><text x="213.26" y="468.25">(0.2)</text>
<text x="240.47" y="460.65">2.4</text><text x="240.47" y="468.25">(0.3)</text>
<text x="267.68" y="460.65">0.3</text><text x="267.68" y="468.25">(0.2)</text>
<text x="294.89" y="460.65">3.1</text><text x="294.89" y="468.25">(0.2)</text>
<text x="322.11" y="460.65">1.0</text><text x="322.11" y="468.25">(0.2)</text>
<text x="349.32" y="460.65">0.7</text><text x="349.32" y="468.25">(0.1)</text>
<text x="376.53" y="460.65">0.0</text><text x="376.53" y="468.25">(0.5)</text>
<text x="403.74" y="460.65">0.8</text><text x="403.74" y="468.25">(0.1)</text>
<text x="430.95" y="460.65">1.0</text><text x="430.95" y="468.25">(0.1)</text>
<text x="458.16" y="460.65">0.3</text><text x="458.16" y="468.25">(0.3)</text>
<text x="485.37" y="460.65">0.6</text><text x="485.37" y="468.25">(0.1)</text>
<text x="512.58" y="460.65">0.0</text><text x="512.58" y="468.25">(0.1)</text>
<text x="539.79" y="460.65">0.3</text><text x="539.79" y="468.25">(0.1)</text>
<text x="77.21" y="483.62">7.8</text><text x="77.21" y="491.23">(1.0)</text>
<text x="104.42" y="483.62">26.0</text><text x="104.42" y="491.23">(4.5)</text>
<text x="131.63" y="483.62">2.6</text><text x="131.63" y="491.23">(0.4)</text>
<text x="267.68" y="483.62">1.9</text><text x="267.68" y="491.23">(0.2)</text>
<text x="322.11" y="483.62">1.6</text><text x="322.11" y="491.23">(0.2)</text>
<text x="349.32" y="483.62">0.0</text><text x="349.32" y="491.23">(0.2)</text>
<text x="539.79" y="483.62">0.0</text><text x="539.79" y="491.23">(0.1)</text>
<text x="77.21" y="506.60">1.4</text><text x="77.21" y="514.20">(1.0)</text>
<text x="104.42" y="506.60">7.7</text><text x="104.42" y="514.20">(4.4)</text>
<text x="131.63" y="506.60">0.7</text><text x="131.63" y="514.20">(0.3)</text>
<text x="158.84" y="506.60">1.1</text><text x="158.84" y="514.20">(1.0)</text>
<text x="186.05" y="506.60">0.0</text><text x="186.05" y="514.20">(0.5)</text>
<text x="213.26" y="506.60">0.0</text><text x="213.26" y="514.20">(0.2)</text>
<text x="240.47" y="506.60">0.5</text><text x="240.47" y="514.20">(0.4)</text>
<text x="267.68" y="506.60">0.2</text><text x="267.68" y="514.20">(0.2)</text>
<text x="294.89" y="506.60">0.3</text><text x="294.89" y="514.20">(0.4)</text>
<text x="322.11" y="506.60">0.3</text><text x="322.11" y="514.20">(0.2)</text>
<text x="349.32" y="506.60">0.2</text><text x="349.32" y="514.20">(0.2)</text>
<text x="376.53" y="506.60">0.0</text><text x="376.53" y="514.20">(0.5)</text>
<text x="403.74" y="506.60">0.4</text><text x="403.74" y="514.20">(0.1)</text>
<text x="430.95" y="506.60">0.0</text><text x="430.95" y="514.20">(0.3)</text>
<text x="458.16" y="506.60">0.3</text><text x="458.16" y="514.20">(0.3)</text>
<text x="485.37" y="506.60">0.0</text><text x="485.37" y="514.20">(0.2)</text>
<text x="512.58" y="506.60">0.0</text><text x="512.58" y="514.20">(0.1)</text>
<text x="539.79" y="506.60">0.1</text><text x="539.79" y="514.20">(0.1)</text>
<text x="77.21" y="529.56">5.0</text><text x="77.21" y="537.16">(1.0)</text>
<text x="131.63" y="529.56">0.0</text><text x="131.63" y="537.16">(0.4)</text>
<text x="158.84" y="529.56">1.8</text><text x="158.84" y="537.16">(1.0)</text>
<text x="267.68" y="529.56">0.0</text><text x="267.68" y="537.16">(0.2)</text>
<text x="322.11" y="529.56">0.0</text><text x="322.11" y="537.16">(0.2)</text>
<text x="539.79" y="529.56">0.0</text><text x="539.79" y="537.16">(0.1)</text>
<text x="77.21" y="552.53">0.5</text><text x="77.21" y="560.13">(1.0)</text>
<text x="131.63" y="552.53">0.0</text><text x="131.63" y="560.13">(0.4)</text>
<text x="267.68" y="552.53">0.7</text><text x="267.68" y="560.13">(0.2)</text>
<text x="322.11" y="552.53">0.0</text><text x="322.11" y="560.13">(0.2)</text>
<text x="349.32" y="552.53">0.0</text><text x="349.32" y="560.13">(0.2)</text>
<text x="539.79" y="552.53">0.0</text><text x="539.79" y="560.13">(0.1)</text>
<text x="77.21" y="575.50">1.1</text><text x="77.21" y="583.11">(1.0)</text>
<text x="104.42" y="575.50">8.1</text><text x="104.42" y="583.11">(4.9)</text>
<text x="131.63" y="575.50">0.2</text><text x="131.63" y="583.11">(0.4)</text>
<text x="158.84" y="575.50">1.8</text><text x="158.84" y="583.11">(1.0)</text>
<text x="213.26" y="575.50">0.0</text><text x="213.26" y="583.11">(0.2)</text>
<text x="267.68" y="575.50">0.0</text><text x="267.68" y="583.11">(0.2)</text>
<text x="294.89" y="575.50">0.0</text><text x="294.89" y="583.11">(0.4)</text>
<text x="322.11" y="575.50">0.3</text><text x="322.11" y="583.11">(0.2)</text>
<text x="349.32" y="575.50">0.0</text><text x="349.32" y="583.11">(0.2)</text>
<text x="403.74" y="575.50">2.1</text><text x="403.74" y="583.11">(0.1)</text>
<text x="458.16" y="575.50">0.8</text><text x="458.16" y="583.11">(0.3)</text>
<text x="485.37" y="575.50">0.0</text><text x="485.37" y="583.11">(0.2)</text>
<text x="512.58" y="575.50">0.0</text><text x="512.58" y="583.11">(0.1)</text>
<text x="539.79" y="575.50">0.0</text><text x="539.79" y="583.11">(0.1)</text>
<text x="77.21" y="598.48">1.5</text><text x="77.21" y="606.08">(1.0)</text>
<text x="131.63" y="598.48">1.5</text><text x="131.63" y="606.08">(0.4)</text>
<text x="267.68" y="598.48">0.0</text><text x="267.68" y="606.08">(0.2)</text>
<text x="322.11" y="598.48">0.0</text><text x="322.11" y="606.08">(0.2)</text>
<text x="349.32" y="598.48">0.5</text><text x="349.32" y="606.08">(0.2)</text>
<text x="539.79" y="598.48">0.0</text><text x="539.79" y="606.08">(0.1)</text>
<text x="77.21" y="621.45">0.5</text><text x="77.21" y="629.05">(1.1)</text>
<text x="104.42" y="621.45">2.9</text><text x="104.42" y="629.05">(5.1)</text>
<text x="131.63" y="621.45">0.7</text><text x="131.63" y="629.05">(0.4)</text>
<text x="158.84" y="621.45">0.0</text><text x="158.84" y="629.05">(1.1)</text>
<text x="186.05" y="621.45">1.8</text><text x="186.05" y="629.05">(0.3)</text>
<text x="213.26" y="621.45">0.0</text><text x="213.26" y="629.05">(0.2)</text>
<text x="240.47" y="621.45">0.0</text><text x="240.47" y="629.05">(0.5)</text>
<text x="267.68" y="621.45">0.2</text><text x="267.68" y="629.05">(0.2)</text>
<text x="294.89" y="621.45">0.0</text><text x="294.89" y="629.05">(0.5)</text>
<text x="322.11" y="621.45">0.0</text><text x="322.11" y="629.05">(0.3)</text>
<text x="349.32" y="621.45">0.0</text><text x="349.32" y="629.05">(0.2)</text>
<text x="403.74" y="621.45">0.0</text><text x="403.74" y="629.05">(0.2)</text>
<text x="458.16" y="621.45">0.0</text><text x="458.16" y="629.05">(0.3)</text>
<text x="485.37" y="621.45">0.0</text><text x="485.37" y="629.05">(0.2)</text>
<text x="512.58" y="621.45">0.0</text><text x="512.58" y="629.05">(0.1)</text>
<text x="539.79" y="621.45">0.1</text><text x="539.79" y="629.05">(0.1)</text>
<text x="77.21" y="644.42">1.2</text><text x="77.21" y="652.02">(1.0)</text>
<text x="131.63" y="644.42">0.0</text><text x="131.63" y="652.02">(0.4)</text>
<text x="267.68" y="644.42">0.0</text><text x="267.68" y="652.02">(0.2)</text>
<text x="294.89" y="644.42">1.4</text><text x="294.89" y="652.02">(0.4)</text>
<text x="322.11" y="644.42">0.0</text><text x="322.11" y="652.02">(0.2)</text>
<text x="349.32" y="644.42">0.0</text><text x="349.32" y="652.02">(0.2)</text>
<text x="539.79" y="644.42">0.4</text><text x="539.79" y="652.02">(0.1)</text>
<text x="77.21" y="667.38">0.8</text><text x="77.21" y="674.99">(1.1)</text>
<text x="104.42" y="667.38">4.0</text><text x="104.42" y="674.99">(5.1)</text>
<text x="131.63" y="667.38">0.4</text><text x="131.63" y="674.99">(0.4)</text>
<text x="158.84" y="667.38">0.0</text><text x="158.84" y="674.99">(1.1)</text>
<text x="186.05" y="667.38">0.0</text><text x="186.05" y="674.99">(0.4)</text>
<text x="213.26" y="667.38">0.9</text><text x="213.26" y="674.99">(0.1)</text>
<text x="240.47" y="667.38">0.0</text><text x="240.47" y="674.99">(0.5)</text>
<text x="267.68" y="667.38">0.2</text><text x="267.68" y="674.99">(0.2)</text>
<text x="294.89" y="667.38">0.0</text><text x="294.89" y="674.99">(0.5)</text>
<text x="322.11" y="667.38">0.2</text><text x="322.11" y="674.99">(0.3)</text>
<text x="349.32" y="667.38">0.3</text><text x="349.32" y="674.99">(0.2)</text>
<text x="376.53" y="667.38">0.0</text><text x="376.53" y="674.99">(0.5)</text>
<text x="403.74" y="667.38">0.4</text><text x="403.74" y="674.99">(0.1)</text>
<text x="430.95" y="667.38">1.4</text><text x="430.95" y="674.99">(0.1)</text>
<text x="458.16" y="667.38">0.3</text><text x="458.16" y="674.99">(0.3)</text>
<text x="485.37" y="667.38">0.0</text><text x="485.37" y="674.99">(0.2)</text>
<text x="512.58" y="667.38">0.0</text><text x="512.58" y="674.99">(0.1)</text>
<text x="539.79" y="667.38">0.2</text><text x="539.79" y="674.99">(0.1)</text>
<text x="77.21" y="690.36">1.1</text><text x="77.21" y="697.96">(1.0)</text>
<text x="104.42" y="690.36">6.7</text><text x="104.42" y="697.96">(4.9)</text>
<text x="131.63" y="690.36">1.1</text><text x="131.63" y="697.96">(0.4)</text>
<text x="267.68" y="690.36">0.2</text><text x="267.68" y="697.96">(0.2)</text>
<text x="322.11" y="690.36">0.0</text><text x="322.11" y="697.96">(0.2)</text>
<text x="349.32" y="690.36">0.3</text><text x="349.32" y="697.96">(0.2)</text>
<text x="403.74" y="690.36">0.0</text><text x="403.74" y="697.96">(0.2)</text>
<text x="458.16" y="690.36">0.0</text><text x="458.16" y="697.96">(0.3)</text>
<text x="485.37" y="690.36">0.0</text><text x="485.37" y="697.96">(0.2)</text>
<text x="539.79" y="690.36">0.0</text><text x="539.79" y="697.96">(0.1)</text>
<text x="77.21" y="713.33">1.3</text><text x="77.21" y="720.93">(1.0)</text>
<text x="131.63" y="713.33">0.0</text><text x="131.63" y="720.93">(0.4)</text>
<text x="267.68" y="713.33">0.0</text><text x="267.68" y="720.93">(0.2)</text>
<text x="349.32" y="713.33">0.0</text><text x="349.32" y="720.93">(0.2)</text>
<text x="539.79" y="713.33">0.0</text><text x="539.79" y="720.93">(0.1)</text>
<text x="77.21" y="736.29">0.8</text><text x="77.21" y="743.89">(1.0)</text>
<text x="131.63" y="736.29">0.3</text><text x="131.63" y="743.89">(0.4)</text>
<text x="267.68" y="736.29">0.0</text><text x="267.68" y="743.89">(0.2)</text>
<text x="294.89" y="736.29">0.0</text><text x="294.89" y="743.89">(0.4)</text>
<text x="322.11" y="736.29">0.5</text><text x="322.11" y="743.89">(0.2)</text>
<text x="349.32" y="736.29">0.0</text><text x="349.32" y="743.89">(0.2)</text>
<text x="403.74" y="736.29">0.0</text><text x="403.74" y="743.89">(0.2)</text>
<text x="458.16" y="736.29">0.0</text><text x="458.16" y="743.89">(0.3)</text>
<text x="539.79" y="736.29">0.0</text><text x="539.79" y="743.89">(0.1)</text>
<text x="77.21" y="759.26">0.4</text><text x="77.21" y="766.87">(1.0)</text>
<text x="131.63" y="759.26">0.0</text><text x="131.63" y="766.87">(0.4)</text>
<text x="267.68" y="759.26">0.0</text><text x="267.68" y="766.87">(0.2)</text>
<text x="322.11" y="759.26">2.1</text><text x="322.11" y="766.87">(0.2)</text>
<text x="349.32" y="759.26">0.0</text><text x="349.32" y="766.87">(0.2)</text>
<text x="403.74" y="759.26">0.0</text><text x="403.74" y="766.87">(0.2)</text>
<text x="458.16" y="759.26">0.0</text><text x="458.16" y="766.87">(0.3)</text>
<text x="539.79" y="759.26">0.4</text><text x="539.79" y="766.87">(0.1)</text>
<text x="77.21" y="782.24">1.5</text><text x="77.21" y="789.84">(1.0)</text>
<text x="104.42" y="782.24">7.1</text><text x="104.42" y="789.84">(4.9)</text>
<text x="131.63" y="782.24">0.8</text><text x="131.63" y="789.84">(0.4)</text>
<text x="158.84" y="782.24">3.8</text><text x="158.84" y="789.84">(0.9)</text>
<text x="186.05" y="782.24">1.5</text><text x="186.05" y="789.84">(0.3)</text>
<text x="213.26" y="782.24">0.0</text><text x="213.26" y="789.84">(0.2)</text>
<text x="240.47" y="782.24">1.4</text><text x="240.47" y="789.84">(0.4)</text>
<text x="267.68" y="782.24">0.2</text><text x="267.68" y="789.84">(0.2)</text>
<text x="294.89" y="782.24">0.0</text><text x="294.89" y="789.84">(0.5)</text>
<text x="322.11" y="782.24">0.0</text><text x="322.11" y="789.84">(0.3)</text>
<text x="349.32" y="782.24">0.5</text><text x="349.32" y="789.84">(0.2)</text>
<text x="376.53" y="782.24">0.0</text><text x="376.53" y="789.84">(0.4)</text>
<text x="403.74" y="782.24">0.7</text><text x="403.74" y="789.84">(0.1)</text>
<text x="458.16" y="782.24">0.2</text><text x="458.16" y="789.84">(0.3)</text>
<text x="485.37" y="782.24">0.0</text><text x="485.37" y="789.84">(0.2)</text>
<text x="512.58" y="782.24">0.0</text><text x="512.58" y="789.84">(0.1)</text>
<text x="539.79" y="782.24">0.0</text><text x="539.79" y="789.84">(0.1)</text>
<text x="77.21" y="805.21">1.7</text><text x="77.21" y="812.81">(1.0)</text>
<text x="131.63" y="805.21">1.3</text><text x="131.63" y="812.81">(0.4)</text>
<text x="267.68" y="805.21">0.0</text><text x="267.68" y="812.81">(0.2)</text>
<text x="322.11" y="805.21">0.0</text><text x="322.11" y="812.81">(0.2)</text>
<text x="349.32" y="805.21">0.0</text><text x="349.32" y="812.81">(0.2)</text>
<text x="458.16" y="805.21">1.9</text><text x="458.16" y="812.81">(0.3)</text>
<text x="539.79" y="805.21">0.2</text><text x="539.79" y="812.81">(0.1)</text>
<text x="77.21" y="828.18">2.3</text><text x="77.21" y="835.78">(1.0)</text>
<text x="131.63" y="828.18">0.0</text><text x="131.63" y="835.78">(0.4)</text>
<text x="267.68" y="828.18">0.0</text><text x="267.68" y="835.78">(0.2)</text>
<text x="322.11" y="828.18">1.1</text><text x="322.11" y="835.78">(0.2)</text>
<text x="349.32" y="828.18">1.1</text><text x="349.32" y="835.78">(0.2)</text>
<text x="539.79" y="828.18">0.9</text><text x="539.79" y="835.78">(0.1)</text>
<text x="77.21" y="851.15">0.0</text><text x="77.21" y="858.75">(1.0)</text>
<text x="131.63" y="851.15">1.0</text><text x="131.63" y="858.75">(0.4)</text>
<text x="267.68" y="851.15">0.9</text><text x="267.68" y="858.75">(0.2)</text>
<text x="322.11" y="851.15">1.3</text><text x="322.11" y="858.75">(0.2)</text>
<text x="349.32" y="851.15">0.0</text><text x="349.32" y="858.75">(0.2)</text>
<text x="539.79" y="851.15">0.0</text><text x="539.79" y="858.75">(0.1)</text>
<text x="77.21" y="874.12">0.0</text><text x="77.21" y="881.72">(1.0)</text>
<text x="267.68" y="874.12">0.0</text><text x="267.68" y="881.72">(0.2)</text>
<text x="539.79" y="874.12">0.0</text><text x="539.79" y="881.72">(0.1)</text>
</g>
<g font-size="7.05" text-anchor="end" fill="#1e1e1e" transform="rotate(0.03 58 657)">
<text x="57.8" y="441.79">Brain</text>
<text x="57.8" y="464.75">Colorectal</text>
<text x="57.8" y="487.73">Endometrial</text>
<text x="57.8" y="510.70">Gastric</text>
<text x="57.8" y="533.66">Ovarian</text>
<text x="57.8" y="556.63">Biliary tract</text>
<text x="57.8" y="579.61">Pancreatic</text>
<text x="57.8" y="602.58">Bladder</text>
<text x="57.8" y="625.55">Breast</text>
<text x="57.8" y="648.52">Cervical</text>
<text x="57.8" y="671.49">Lung</text>
<text x="57.8" y="694.46">Prostate</text>
<text x="57.8" y="717.43">Thyroid</text>
<text x="57.8" y="740.39">Esophageal</text>
<text x="57.8" y="763.37">Laryngeal</text>
<text x="57.8" y="786.34">Liver</text>
<text x="57.8" y="809.31">Leukemia</text>
<text x="57.8" y="832.28">Lymphoma</text>
<text x="57.8" y="855.25">Renal</text>
<text x="57.8" y="878.22">Skin</text>
</g>
<g font-size="7.2" text-anchor="end" fill="#1e1e1e">
<text x="79.81" y="891.5" transform="rotate(-90 79.81 891.5)">Colorectal</text>
<text x="107.02" y="891.5" transform="rotate(-90 107.02 891.5)">Endometrial</text>
<text x="134.23" y="891.5" transform="rotate(-90 134.23 891.5)">Gastric</text>
<text x="161.44" y="891.5" transform="rotate(-90 161.44 891.5)">Ovarian</text>
<text x="188.65" y="891.5" transform="rotate(-90 188.65 891.5)">Biliary tract</text>
<text x="215.86" y="891.5" transform="rotate(-90 215.86 891.5)">Pancreatic</text>
<text x="243.07" y="891.5" transform="rotate(-90 243.07 891.5)">Bladder</text>
<text x="266.28" y="891.5" transform="rotate(-90 266.28 891.5)">Breast</text>
<text x="274.28" y="891.5" transform="rotate(-90 274.28 891.5)">(female)</text>
<text x="297.49" y="891.5" transform="rotate(-90 297.49 891.5)">Cervical</text>
<text x="324.71" y="891.5" transform="rotate(-90 324.71 891.5)">Lung</text>
<text x="351.92" y="891.5" transform="rotate(-90 351.92 891.5)">Prostate</text>
<text x="379.13" y="891.5" transform="rotate(-90 379.13 891.5)">Thyroid</text>
<text x="406.34" y="891.5" transform="rotate(-90 406.34 891.5)">Esophageal</text>
<text x="433.55" y="891.5" transform="rotate(-90 433.55 891.5)">Head and neck</text>
<text x="460.76" y="891.5" transform="rotate(-90 460.76 891.5)">Liver</text>
<text x="487.97" y="891.5" transform="rotate(-90 487.97 891.5)">Lymphoma</text>
<text x="515.18" y="891.5" transform="rotate(-90 515.18 891.5)">Renal</text>
<text x="542.39" y="891.5" transform="rotate(-90 542.39 891.5)">Control</text>
</g>
<line x1="18.5" x2="18.5" y1="431.6" y2="586.5" stroke="#000" stroke-width="1"/>
<text x="10.80" y="507.70" font-size="13.4" text-anchor="middle" fill="#000" transform="rotate(-90 10.80 507.70)">LS-related</text>
<text x="10.30" y="661.70" font-size="13.6" text-anchor="middle" fill="#000" transform="rotate(-90 10.30 661.70)">Family history</text>
<line x1="63.6" x2="227.8" y1="931.9" y2="931.9" stroke="#111" stroke-width="1.4"/>
<text x="148.30" y="950.80" font-size="13.4" text-anchor="middle" fill="#000">LS-related</text>
<text x="300.00" y="963.00" font-size="13.4" text-anchor="middle" fill="#000">Personal history</text>
<text x="563.00" y="440.00" font-size="13.4" fill="#000">Carrier frequency, %</text>
<defs><linearGradient id="cb" x1="0" y1="1" x2="0" y2="0"><stop offset="0.0000" stop-color="#ffffff"/><stop offset="0.0833" stop-color="#fff1f2"/><stop offset="0.1667" stop-color="#ffe3e5"/><stop offset="0.2500" stop-color="#ffd5d8"/><stop offset="0.3333" stop-color="#ffc7cb"/><stop offset="0.4167" stop-color="#ffb9be"/><stop offset="0.5000" stop-color="#ffaab1"/><stop offset="0.5833" stop-color="#ff9ca5"/><stop offset="0.6667" stop-color="#fd8d99"/><stop offset="0.7500" stop-color="#fa7e8d"/><stop offset="0.8333" stop-color="#f76e81"/><stop offset="0.9167" stop-color="#f35d76"/><stop offset="1.0000" stop-color="#f04a6a"/></linearGradient></defs>
<rect x="596.0" y="456.7" width="17.0" height="84.9" fill="url(#cb)"/>
<line x1="596.0" x2="599.0" y1="541.30" y2="541.30" stroke="#fff" stroke-opacity="0.75" stroke-width="0.6"/>
<line x1="610.0" x2="613.0" y1="541.30" y2="541.30" stroke="#fff" stroke-opacity="0.75" stroke-width="0.6"/>
<text x="625.70" y="544.80" font-size="11.9" text-anchor="middle" fill="#000">0</text>
<line x1="596.0" x2="599.0" y1="524.45" y2="524.45" stroke="#fff" stroke-opacity="0.75" stroke-width="0.6"/>
<line x1="610.0" x2="613.0" y1="524.45" y2="524.45" stroke="#fff" stroke-opacity="0.75" stroke-width="0.6"/>
<text x="625.70" y="528.00" font-size="11.9" text-anchor="middle" fill="#000">5</text>
<line x1="596.0" x2="599.0" y1="507.60" y2="507.60" stroke="#fff" stroke-opacity="0.75" stroke-width="0.6"/>
<line x1="610.0" x2="613.0" y1="507.60" y2="507.60" stroke="#fff" stroke-opacity="0.75" stroke-width="0.6"/>
<text x="625.70" y="511.20" font-size="11.9" text-anchor="middle" fill="#000">10</text>
<line x1="596.0" x2="599.0" y1="490.75" y2="490.75" stroke="#fff" stroke-opacity="0.75" stroke-width="0.6"/>
<line x1="610.0" x2="613.0" y1="490.75" y2="490.75" stroke="#fff" stroke-opacity="0.75" stroke-width="0.6"/>
<text x="625.70" y="494.40" font-size="11.9" text-anchor="middle" fill="#000">15</text>
<line x1="596.0" x2="599.0" y1="473.90" y2="473.90" stroke="#fff" stroke-opacity="0.75" stroke-width="0.6"/>
<line x1="610.0" x2="613.0" y1="473.90" y2="473.90" stroke="#fff" stroke-opacity="0.75" stroke-width="0.6"/>
<text x="625.70" y="477.60" font-size="11.9" text-anchor="middle" fill="#000">20</text>
<line x1="596.0" x2="599.0" y1="457.05" y2="457.05" stroke="#fff" stroke-opacity="0.75" stroke-width="0.6"/>
<line x1="610.0" x2="613.0" y1="457.05" y2="457.05" stroke="#fff" stroke-opacity="0.75" stroke-width="0.6"/>
<text x="625.70" y="460.80" font-size="11.9" text-anchor="middle" fill="#000">25</text>
<rect x="563.5" y="561.5" width="105.3" height="72.7" fill="#fff" stroke="#000" stroke-width="1"/>
<text x="615.50" y="577.00" font-size="11.15" text-anchor="middle" fill="#000">Carrier freq. in</text>
<text x="615.50" y="590.00" font-size="11.15" text-anchor="middle" fill="#000">patients w/ FH</text>
<text x="615.50" y="612.80" font-size="11.15" text-anchor="middle" fill="#000">(Carrier freq. in</text>
<text x="615.50" y="626.30" font-size="11.15" text-anchor="middle" fill="#000">patients w/o FH)</text>
</g></svg></body></html>
